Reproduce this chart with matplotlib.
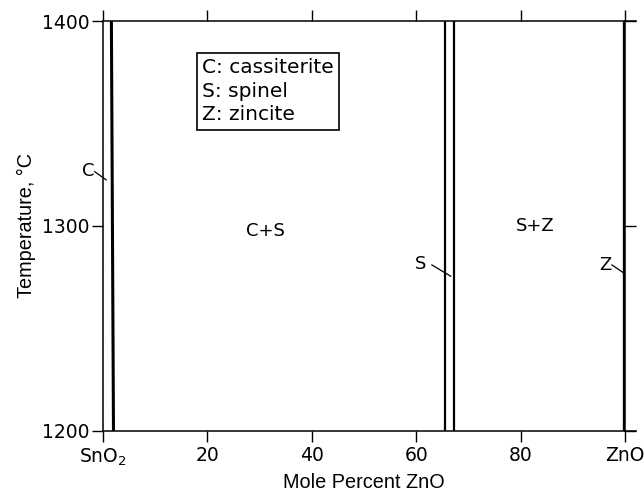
import matplotlib
matplotlib.use("Agg")
import matplotlib.pyplot as plt

# ---- data ----
temps = [1200, 1400]
cassiterite_limit = [2.0, 1.6]      # mole % ZnO
spinel_low = [65.5, 65.5]
spinel_high = [67.3, 67.3]
zincite_limit = [99.9, 99.9]

xticks = [0, 20, 40, 60, 80, 100]
xticklabels = ["SnO$_2$", "20", "40", "60", "80", "ZnO"]
yticks = [1200, 1300, 1400]

region_labels = ["C+S", "S+Z"]
region_pos = [(31.2, 1297.6), (82.8, 1300.0)]

phase_labels = ["C", "S", "Z"]
phase_text_pos = [(-2.9, 1327.0), (60.9, 1281.5), (96.2, 1281.0)]
phase_leader = [((-1.6, 1326.5), (0.6, 1322.5)),
                ((63.0, 1281.0), (66.6, 1275.5)),
                ((97.5, 1281.0), (99.8, 1277.0))]

legend_lines = ["C: cassiterite", "S: spinel", "Z: zincite"]

plt.rcParams['mathtext.default'] = 'regular'
fig = plt.figure(figsize=(6.44, 4.93), dpi=100)
ax = fig.add_axes([0.16, 0.1258, 0.8105, 0.8316])

ax.plot(cassiterite_limit, temps, color='black', lw=2.2, solid_capstyle='butt')
ax.plot(spinel_low, temps, color='black', lw=1.6, solid_capstyle='butt')
ax.plot(spinel_high, temps, color='black', lw=1.6, solid_capstyle='butt')
ax.plot(zincite_limit, temps, color='black', lw=2.4, solid_capstyle='butt')

ax.set_xlim(0, 100)
ax.set_ylim(1200, 1400)

# extension of top/bottom frame lines beyond right edge
for yv in (1200, 1400):
    ax.plot([100, 102.2], [yv, yv], color='black', lw=1.1, clip_on=False)

for s in ax.spines.values():
    s.set_linewidth(1.1)

ax.set_xticks(xticks)
ax.set_xticklabels(xticklabels)
ax.set_yticks(yticks)
ax.tick_params(axis='both', direction='out', length=8, width=1.0,
               labelsize=13.5, top=True, right=True)
ax.tick_params(axis='x', pad=3)
ax.tick_params(axis='y', pad=2)

for (lbl, (x, y)) in zip(region_labels, region_pos):
    ax.text(x, y, lbl, ha='center', va='center', fontsize=13)

for lbl, (x, y), (p0, p1) in zip(phase_labels, phase_text_pos, phase_leader):
    ax.text(x, y, lbl, ha='center', va='center', fontsize=13)
    ax.plot([p0[0], p1[0]], [p0[1], p1[1]], color='black', lw=0.9, clip_on=False)

ax.text(0.19, 0.91, "\n".join(legend_lines), transform=ax.transAxes,
        ha='left', va='top', fontsize=14.5, linespacing=1.32,
        bbox=dict(boxstyle='square,pad=0.25', fc='white', ec='black', lw=1.2))

ax.set_xlabel("Mole Percent ZnO", fontsize=14.3, family='Liberation Sans', labelpad=4)
ax.set_ylabel("Temperature, °C", fontsize=14.3, family='Liberation Sans', labelpad=4)

fig.savefig("out.png", dpi=100)
